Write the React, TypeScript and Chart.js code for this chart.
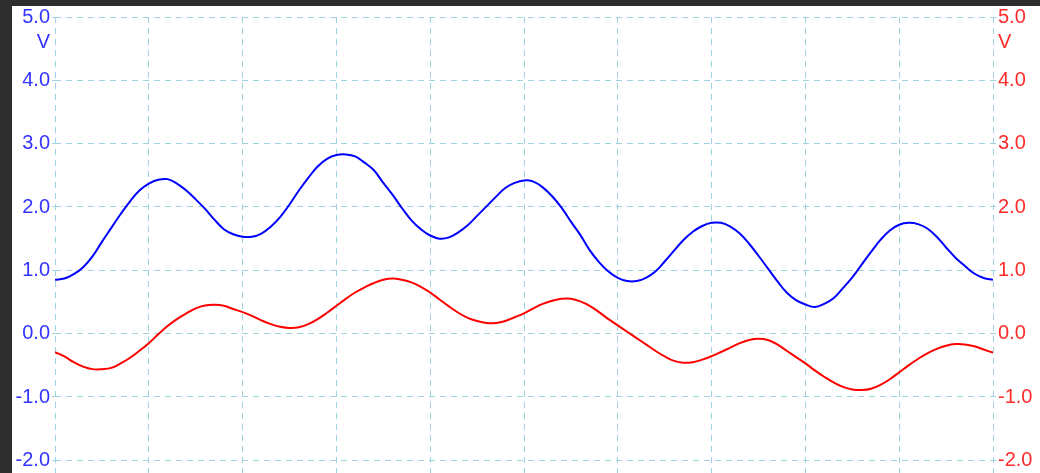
import React, { useEffect, useRef } from 'react';
import { Chart, registerables } from 'chart.js';

Chart.register(...registerables);

// time axis in divisions (10 divisions across the screen)
const timeDivs = [
  0.0, 0.1, 0.2, 0.3, 0.4, 0.5, 0.6, 0.7, 0.8, 0.9,
  1.0, 1.1, 1.2, 1.3, 1.4, 1.5, 1.6, 1.7, 1.8, 1.9,
  2.0, 2.1, 2.2, 2.3, 2.4, 2.5, 2.6, 2.7, 2.8, 2.9,
  3.0, 3.1, 3.2, 3.3, 3.4, 3.5, 3.6, 3.7, 3.8, 3.9,
  4.0, 4.1, 4.2, 4.3, 4.4, 4.5, 4.6, 4.7, 4.8, 4.9,
  5.0, 5.1, 5.2, 5.3, 5.4, 5.5, 5.6, 5.7, 5.8, 5.9,
  6.0, 6.1, 6.2, 6.3, 6.4, 6.5, 6.6, 6.7, 6.8, 6.9,
  7.0, 7.1, 7.2, 7.3, 7.4, 7.5, 7.6, 7.7, 7.8, 7.9,
  8.0, 8.1, 8.2, 8.3, 8.4, 8.5, 8.6, 8.7, 8.8, 8.9,
  9.0, 9.1, 9.2, 9.3, 9.4, 9.5, 9.6, 9.7, 9.8, 9.9,
  10.0,
];

// channel A (blue), volts
const channelA = [
  0.85, 0.87, 0.94, 1.05, 1.22, 1.45, 1.67, 1.89, 2.09, 2.26,
  2.37, 2.43, 2.44, 2.37, 2.26, 2.12, 1.97, 1.80, 1.65, 1.57,
  1.53, 1.53, 1.58, 1.69, 1.84, 2.04, 2.26, 2.46, 2.64, 2.76,
  2.82, 2.83, 2.80, 2.70, 2.58, 2.38, 2.19, 1.98, 1.79, 1.65,
  1.55, 1.50, 1.52, 1.60, 1.71, 1.86, 2.01, 2.16, 2.30, 2.38,
  2.42, 2.40, 2.31, 2.17, 1.99, 1.77, 1.56, 1.32, 1.13, 0.98,
  0.88, 0.83, 0.83, 0.88, 0.98, 1.14, 1.31, 1.48, 1.61, 1.70,
  1.75, 1.75, 1.69, 1.58, 1.42, 1.23, 1.03, 0.83, 0.65, 0.53,
  0.46, 0.42, 0.47, 0.56, 0.72, 0.89, 1.09, 1.29, 1.48, 1.63,
  1.72, 1.75, 1.73, 1.66, 1.53, 1.36, 1.20, 1.07, 0.95, 0.88,
  0.85,
];

// channel B (red), volts
const channelB = [
  -0.29, -0.36, -0.45, -0.52, -0.56, -0.56, -0.54, -0.47, -0.38, -0.27,
  -0.15, -0.01, 0.12, 0.23, 0.32, 0.40, 0.445, 0.455, 0.44, 0.39,
  0.34, 0.28, 0.21, 0.15, 0.11, 0.09, 0.10, 0.15, 0.23, 0.33,
  0.44, 0.55, 0.65, 0.73, 0.80, 0.85, 0.87, 0.85, 0.81, 0.74,
  0.65, 0.54, 0.43, 0.33, 0.25, 0.20, 0.17, 0.17, 0.20, 0.26,
  0.32, 0.40, 0.47, 0.52, 0.55, 0.55, 0.51, 0.44, 0.34, 0.23,
  0.13, 0.03, -0.07, -0.17, -0.27, -0.36, -0.43, -0.46, -0.45, -0.41,
  -0.355, -0.29, -0.22, -0.15, -0.10, -0.08, -0.10, -0.17, -0.27, -0.37,
  -0.47, -0.58, -0.68, -0.77, -0.84, -0.88, -0.89, -0.87, -0.81, -0.72,
  -0.61, -0.50, -0.40, -0.31, -0.24, -0.19, -0.165, -0.17, -0.20, -0.25,
  -0.30,
];

const voltTicks = [-2, -1, 0, 1, 2, 3, 4, 5];
const unitLabel = 'V';

const FONT = '"Liberation Sans", Arial, sans-serif';
const FONT_SIZE = 20;
const BLUE = '#0000ff';
const RED = '#ff0000';
const BLUE_TEXT = '#3333ff';
const RED_TEXT = '#ff2a2a';
const GRID = 'rgb(160,210,228)';

const unitPlugin = {
  id: 'unitLabel',
  afterDraw(chart: any) {
    const ctx = chart.ctx;
    const yl = chart.scales.yLeft;
    const yr = chart.scales.yRight;
    const y = yl.getPixelForValue(voltTicks[voltTicks.length - 1]) + 25;
    ctx.save();
    ctx.font = `${FONT_SIZE}px ${FONT}`;
    ctx.textBaseline = 'middle';
    ctx.textAlign = 'right';
    ctx.fillStyle = BLUE_TEXT;
    ctx.fillText(unitLabel, yl.right - 5, y);
    ctx.textAlign = 'left';
    ctx.fillStyle = RED_TEXT;
    ctx.fillText(unitLabel, yr.left + 5, y);
    ctx.restore();
  },
};

function fixTicks(scale: any) {
  scale.ticks = voltTicks.map((v) => ({ value: v }));
}
function noPad(scale: any, w: number) {
  scale.width = w;
  scale.paddingTop = 0;
  scale.paddingBottom = 0;
}

export default function App() {
  const ref = useRef<HTMLCanvasElement | null>(null);
  useEffect(() => {
    if (!ref.current) return;
    const chart = new Chart(ref.current, {
      type: 'line',
      data: {
        datasets: [
          {
            label: 'A',
            data: timeDivs.map((t, i) => ({ x: t, y: channelA[i] })),
            borderColor: BLUE,
            borderWidth: 2,
            pointRadius: 0,
            tension: 0.4,
            yAxisID: 'yLeft',
          },
          {
            label: 'B',
            data: timeDivs.map((t, i) => ({ x: t, y: channelB[i] })),
            borderColor: RED,
            borderWidth: 2,
            pointRadius: 0,
            tension: 0.4,
            yAxisID: 'yRight',
          },
        ],
      },
      options: {
        animation: false,
        responsive: false,
        maintainAspectRatio: false,
        events: [],
        layout: { padding: { top: 11, left: 0, right: 0, bottom: 0 } },
        plugins: { legend: { display: false }, tooltip: { enabled: false } },
        scales: {
          x: {
            type: 'linear',
            min: 0,
            max: 10,
            ticks: { display: false, stepSize: 1 },
            grid: { color: GRID, drawTicks: false, lineWidth: 1 },
            border: { display: false, dash: [6, 5] },
            afterFit: (s: any) => { s.height = 0; },
          },
          yLeft: {
            type: 'linear',
            position: 'left',
            min: -2.2,
            max: 5,
            afterBuildTicks: fixTicks,
            afterFit: (s: any) => noPad(s, 43),
            ticks: {
              color: BLUE_TEXT,
              font: { family: FONT, size: FONT_SIZE },
              padding: 2,
              callback: (v: any) => Number(v).toFixed(1),
            },
            grid: { color: GRID, tickLength: 3, drawTicks: true },
            border: { display: false, dash: [6, 5] },
          },
          yRight: {
            type: 'linear',
            position: 'right',
            min: -2.2,
            max: 5,
            afterBuildTicks: fixTicks,
            afterFit: (s: any) => noPad(s, 47),
            ticks: {
              color: RED_TEXT,
              font: { family: FONT, size: FONT_SIZE },
              padding: 2,
              callback: (v: any) => Number(v).toFixed(1),
            },
            grid: { color: GRID, tickLength: 3, drawTicks: true, drawOnChartArea: false },
            border: { display: false },
          },
        },
      },
      plugins: [unitPlugin],
    } as any);
    return () => chart.destroy();
  }, []);

  return (
    <div style={{ position: 'fixed', left: 0, top: 0, width: 1040, height: 473, background: '#2d2d2d', overflow: 'hidden' }}>
      <div style={{ position: 'absolute', left: 12, top: 6, width: 1028, height: 467, background: '#ffffff' }}>
        <canvas ref={ref} width={1028} height={467} style={{ display: 'block' }} />
      </div>
    </div>
  );
}
